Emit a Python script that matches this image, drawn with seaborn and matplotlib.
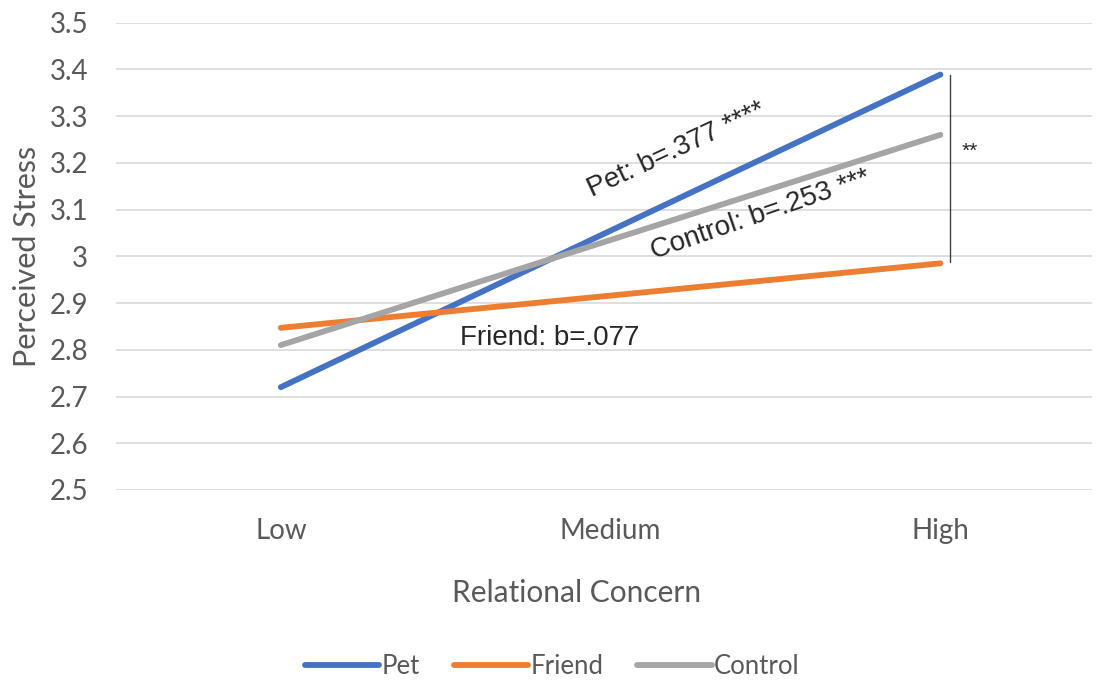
import numpy as np
import pandas as pd
import matplotlib
matplotlib.use("Agg")
import matplotlib.pyplot as plt
import seaborn as sns

# values
levels = ["Low", "Medium", "High"]
groups = ["Pet", "Friend", "Control"]
pet = [2.72, 3.055, 3.389]
friend = [2.847, 2.916, 2.985]
control = [2.81, 3.035, 3.26]
colors = ["#4472C4", "#ED7D31", "#A5A5A5"]
y_ticks = [2.5, 2.6, 2.7, 2.8, 2.9, 3.0, 3.1, 3.2, 3.3, 3.4, 3.5]
y_tick_labels = ["2.5", "2.6", "2.7", "2.8", "2.9", "3", "3.1", "3.2", "3.3", "3.4", "3.5"]

df = pd.DataFrame({
    "Relational Concern": levels * 3,
    "x": list(range(3)) * 3,
    "Perceived Stress": pet + friend + control,
    "Group": [g for g in groups for _ in levels],
})

sns.set_style("white")
plt.rcParams["font.family"] = ["Lato", "DejaVu Sans"]
grey = "#595959"

fig = plt.figure(figsize=(10.98, 6.83), dpi=100)
ax = fig.add_axes([0.1056, 0.2826, 0.889, 0.6842])

ax.yaxis.grid(True, color="#D9D9D9", linewidth=1.2)
ax.set_axisbelow(True)

sns.lineplot(data=df, x="x", y="Perceived Stress", hue="Group", hue_order=groups,
             palette=colors, linewidth=4.2, ax=ax, legend=False,
             solid_capstyle="round")

ax.set_xlim(-0.5, 2.46)
ax.set_ylim(2.5, 3.5)
ax.set_xticks(range(3))
ax.set_xticklabels(levels)
ax.set_yticks(y_ticks)
ax.set_yticklabels(y_tick_labels)
ax.tick_params(axis="both", labelsize=20, colors=grey, length=0)
ax.tick_params(axis="x", pad=20)
ax.tick_params(axis="y", pad=20)
for s in ax.spines.values():
    s.set_visible(False)

ax.set_xlabel("Relational Concern", fontsize=21.5, color=grey)
ax.xaxis.set_label_coords(0.472, -0.19)
ax.set_ylabel("Perceived Stress", fontsize=22, color=grey, labelpad=6)

# slope annotations
afont = ["Liberation Sans", "DejaVu Sans"]
ax.text(1.2, 3.228, "Pet: b=.377 ****", fontsize=20, rotation=25, family=afont,
        ha="center", va="center", rotation_mode="anchor")
ax.text(1.455, 3.088, "Control: b=.253 ***", fontsize=20, rotation=19, family=afont,
        ha="center", va="center", rotation_mode="anchor")
ax.text(0.815, 2.825, "Friend: b=.077", fontsize=20, family=afont,
        ha="center", va="center")
ax.plot([2.03, 2.03], [2.987, 3.389], color="#404040", linewidth=1)
ax.text(2.09, 3.225, "**", fontsize=15, family=afont, ha="center", va="center")

handles = [plt.Line2D([], [], color=c, linewidth=4.2, solid_capstyle="round") for c in colors]
leg = fig.legend(handles, groups, loc="center", bbox_to_anchor=(0.503, 0.024), ncol=3,
                 frameon=False, fontsize=18.5, handlelength=2.9, handletextpad=0.1,
                 columnspacing=1.3)
for t in leg.get_texts():
    t.set_color(grey)

fig.savefig("out.png", dpi=100)
